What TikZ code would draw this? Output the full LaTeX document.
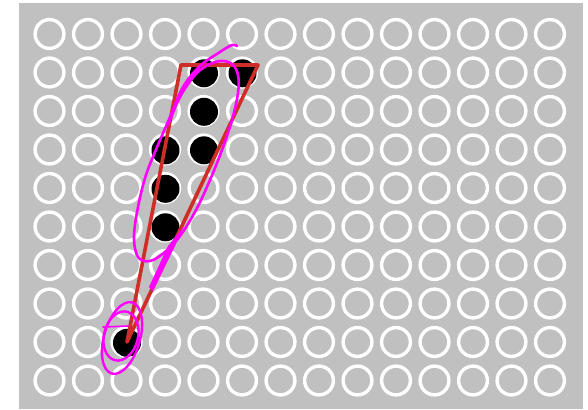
\documentclass[tikz,border=0pt]{standalone}
\usepackage{tikz}
\definecolor{panelgray}{RGB}{192,192,192}
\definecolor{wedgered}{RGB}{207,46,40}
\definecolor{penpink}{RGB}{255,0,255}
\begin{document}
\begin{tikzpicture}[x=1pt,y=-1pt,line cap=round,line join=round]
\useasboundingbox[fill=white] (0,0) rectangle (588,409);
\fill[panelgray] (19,3) rectangle (583,409);
\foreach \i in {0,...,13} {\foreach \j in {0,...,9} {\draw[white,line width=3.4] (49.5+38.5*\i,34+38.5*\j) circle[radius=14.4];}}
\foreach \i/\j in {4/1,5/1,4/2,3/3,4/3,3/4,3/5,2/8} {\fill[black] (50+38.5*\i,34.8+38.5*\j) circle[radius=14];}
\draw[wedgered,line width=3.6] (181,65) -- (258,65) -- (127,342) -- cycle;
% pen strokes
\draw[penpink,line width=2.6] plot[smooth,tension=0.6] coordinates {(237,46) (232,45) (220,52) (200,66) (183,87) (170,117) (158,145) (146,175) (138,207) (134,237) (138,257) (150,261) (165,252) (180,236) (196,210) (210,180) (222,150) (232,120) (238,93) (238,75) (232,64) (221,61) (208,65) (195,75) (180,97) (168,125)};
\fill[penpink] (184,226) -- (175,246) -- (153,291) -- (149,287) -- (168,246) -- cycle;
\draw[penpink,line width=2.4] (122,338) ellipse[x radius=18, y radius=37, rotate=-16];
\draw[penpink,line width=2.4] (121,336) ellipse[x radius=17, y radius=25, rotate=-14];
\draw[penpink,line width=1.6] (103,327) -- (128,326);
\end{tikzpicture}
\end{document}
